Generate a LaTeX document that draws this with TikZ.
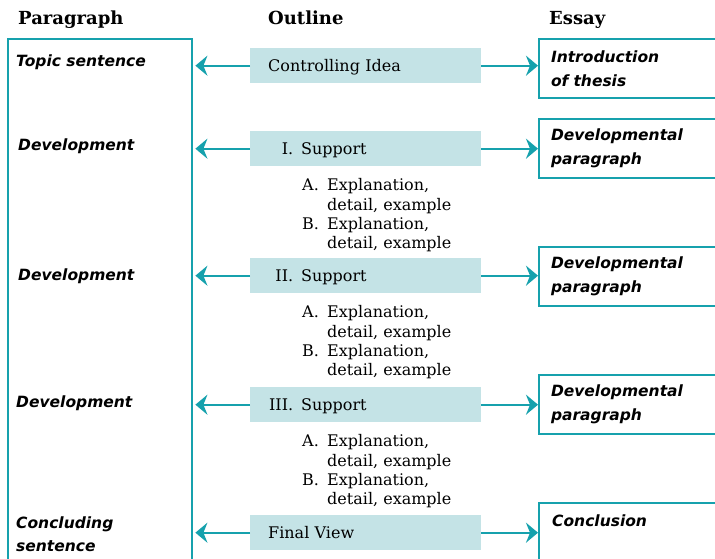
\documentclass[tikz,border=0pt]{standalone}
\usepackage{fontspec}
\setmainfont{DejaVu Serif}
\newfontfamily\handfont{DejaVu Sans}
\usetikzlibrary{arrows.meta,calc,positioning}
\definecolor{lineteal}{RGB}{22,161,173}
\definecolor{boxfill}{RGB}{196,227,230}
\tikzset{
        title/.style = {font=\bfseries\fontsize{18}{21}\selectfont,
            anchor=base west, inner sep=0},
        outline/.style = {fill=boxfill, anchor=north west,
            minimum height=35pt, inner xsep=18pt, text width=195pt,
            text height=13pt, text depth=2pt,
            align=left, font=\fontsize{16}{19}\selectfont},
        subitem/.style = {inner sep=0, align=left,
            font=\fontsize{16}{19.4}\selectfont},
        essay/.style = {draw=lineteal, line width=2pt, anchor=north west,
            minimum height=59pt, inner xsep=12pt, text width=180pt,
            align=left, font=\handfont\bfseries\itshape\fontsize{15.5}{24}\selectfont},
        hand/.style = {anchor=west, inner sep=0, align=left,
            font=\handfont\bfseries\itshape\fontsize{15.5}{23}\selectfont},
        box/.style = {draw=lineteal, line width=2pt},
        link/.style = {draw=lineteal, line width=2pt,
            -{Stealth[length=12pt,width=20pt,inset=4pt]}},
    }
\newcommand{\num}[1]{\makebox[25pt][r]{#1}\enspace}
\newcommand{\sub}[1]{\makebox[25pt][l]{#1}}

\begin{document}
\begin{tikzpicture}[x=1pt,y=-1pt]
    \useasboundingbox (0,0) rectangle (715,559);
    \clip (0,0) rectangle (715,559);

    % headings
    \node[title] (hpar) at (18,25) {Paragraph};
    \node[title] (hout) at (268,25) {Outline};
    \node[title] (hess) at (549,25) {Essay};

    % paragraph column
    \node[inner sep=0, minimum width=184pt, minimum height=540pt,
          anchor=north west] (para) at (8,39) {};
    \draw[box] (para.south west) |- (para.north east) -- (para.south east);
    \node[hand] (p1) at (16,62) {Topic sentence};
    \node[hand] (p2) at (18,146) {Development};
    \node[hand] (p3) at (18,276) {Development};
    \node[hand] (p4) at (16,403) {Development};
    \node[hand] (p5) at (16,534) {Concluding\\sentence};

    % outline column
    \node[outline] (o1) at (250,48) {Controlling Idea};
    \node[outline] (o2) at (250,131) {\num{I.}Support};
    \node[outline] (o3) at (250,258) {\num{II.}Support};
    \node[outline] (o4) at (250,387) {\num{III.}Support};
    \node[outline] (o5) at (250,515) {Final View};

    \node[subitem, below right=12pt and 52pt of o2.south west] (s2)
        {\sub{A.}Explanation,\\\sub{}detail, example\\
         \sub{B.}Explanation,\\\sub{}detail, example};
    \node[subitem, below right=12pt and 52pt of o3.south west] (s3)
        {\sub{A.}Explanation,\\\sub{}detail, example\\
         \sub{B.}Explanation,\\\sub{}detail, example};
    \node[subitem, below right=12pt and 52pt of o4.south west] (s4)
        {\sub{A.}Explanation,\\\sub{}detail, example\\
         \sub{B.}Explanation,\\\sub{}detail, example};

    % essay column
    \node[essay] (e1) at (538,38) {Introduction\\of thesis};
    \node[essay] (e2) at (538,118) {Developmental\\paragraph};
    \node[essay] (e3) at (538,246) {Developmental\\paragraph};
    \node[essay] (e4) at (538,374) {Developmental\\paragraph};
    \node[essay, minimum height=90pt] (e5) at (538,502) {};
    \node[hand] (e5t) at (552,521) {Conclusion};

    % arrows
    \foreach \o/\e in {o1/e1,o2/e2,o3/e3,o4/e4,o5/e5}{
        \draw[link, shorten >=3pt] (\o.west) -- (\o.west -| para.east);
        \draw[link] (\o.east) -- (\o.east -| \e.west);
    }
\end{tikzpicture}
\end{document}
